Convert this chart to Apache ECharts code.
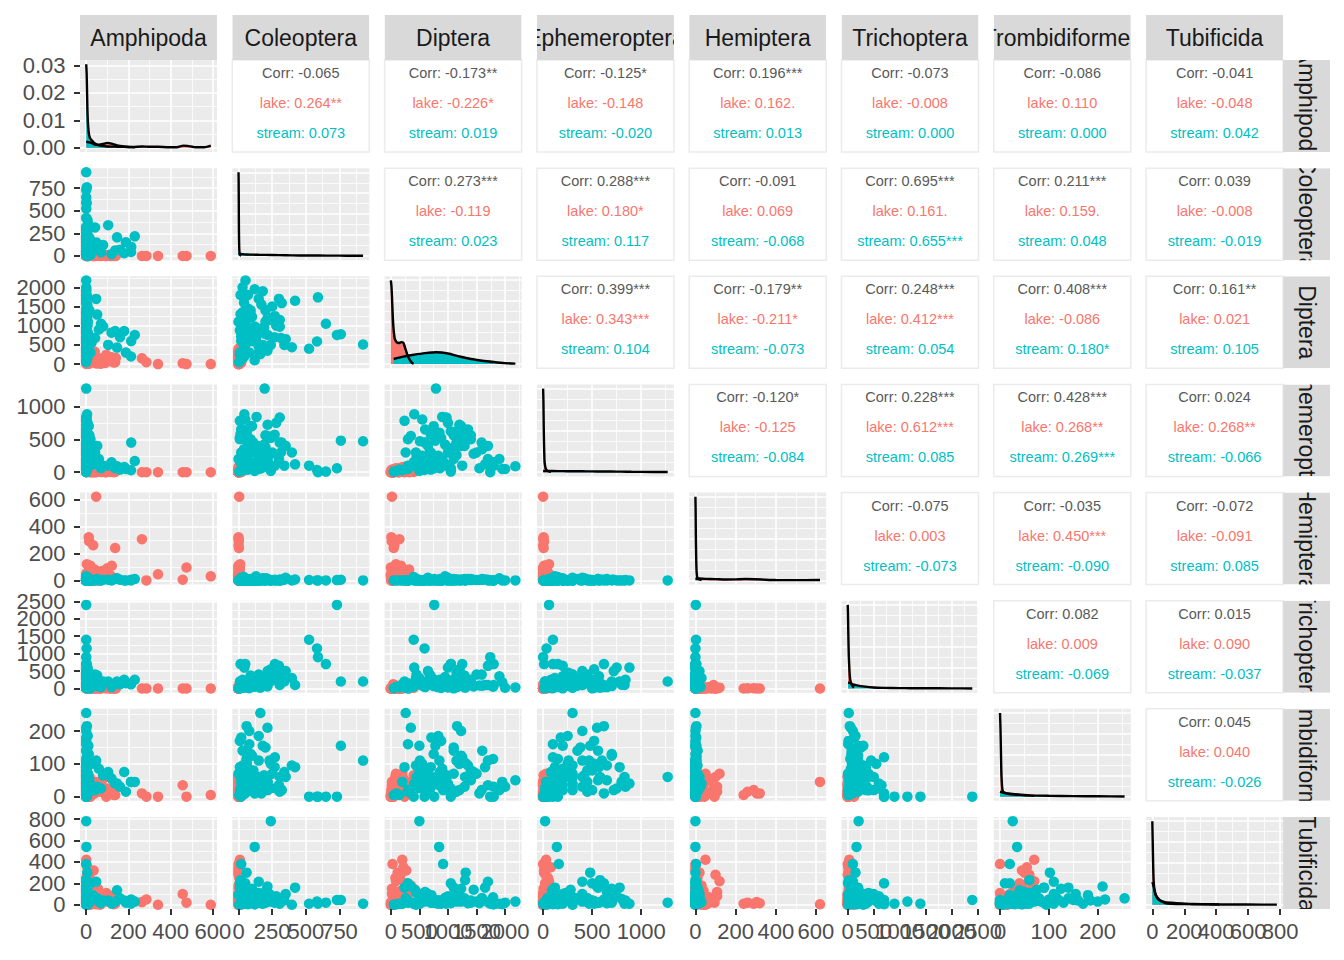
<!DOCTYPE html>
<html><head><meta charset="utf-8">
<script src="https://cdn.jsdelivr.net/npm/echarts@6/dist/echarts.min.js"></script>
<style>html,body{margin:0;padding:0;background:#fff}#c{width:1344px;height:960px}</style>
</head><body><div id="c"></div>
<script>
const variables = ['Amphipoda','Coleoptera','Diptera','Ephemeroptera','Hemiptera','Trichoptera','Trombidiformes','Tubificida'];

// lake observations
const lakeAmphipoda = [47,12,14,33,137,264,20,121,285,340,457,475,590,0,5,0,10,0,30,60,90,100,5,0,20,70,0,110,40,0, 8,25,45,75,130,15,55,95,3,35,65,115,0,18,140];
const lakeColeoptera = [5,0,2,0,3,0,5,0,0,0,0,0,0,10,0,5,15,0,0,5,0,10,0,0,20,0,5,0,0,10, 0,2,0,5,0,0,8,0,12,0,3,0,0,6,0];
const lakeDiptera = [20,10,15,60,50,150,100,180,50,0,20,0,0,200,120,80,250,400,300,150,30,70,220,350,40,10,180,90,320,5, 60,130,200,110,40,170,20,240,90,270,60,140,30,210,160];
const lakeEphemeroptera = [0,5,10,0,5,0,20,10,0,0,0,0,0,30,10,50,20,5,60,15,0,30,80,40,0,5,70,20,0,25, 10,0,15,5,0,25,40,0,60,10,35,5,0,45,20];
const lakeHemiptera = [620,320,290,260,240,305,108,108,0,45,5,95,30,50,20,10,5,15,0,10,60,90,0,30,2,0,40,20,80,0, 15,5,30,70,10,100,0,25,120,0,50,35,0,65,15];
const lakeTrichoptera = [0,0,10,5,0,0,20,5,0,0,0,0,0,30,10,50,80,20,40,0,5,100,10,60,120,0,30,0,0,15, 5,0,10,20,0,0,40,15,25,60,0,5,0,35,0];
const lakeTrombidiformes = [45,10,20,15,5,10,30,15,0,0,35,0,5,70,50,60,40,65,20,30,10,25,55,45,0,20,35,60,10,0, 25,40,15,50,5,60,30,0,70,45,15,25,0,55,35];
const lakeTubificida = [5,15,10,20,10,25,120,80,50,0,100,20,0,420,300,250,200,150,100,60,40,30,350,180,0,10,130,60,30,5, 40,90,20,70,5,280,150,110,220,320,0,50,380,15,100];

// stream observations
const streamAmphipoda = [0,3,0,0,2,0,0,6,0,0, 0,4,0,0,2,0,0,1,0,0, 5,0,47,52,80,137,180,213,230,146, 42,104,188,212,0,0,3,0,7,0, 10,0,2,5,0,15,4,0,5,0, 10,6,0,0,3,0,20,1,0,0, 3,0,25,0,8,5,60,120,2,0, 0,0,4,0,0,12,0,0,30,0, 0,2,0,0,70,0,0,0,160,0];
const streamColeoptera = [925,760,731,649,583,590,524,396,321,52, 194,43,134,216,306,268,306,120,240,20, 60,30,150,90,120,60,30,100,217,206, 315,340,152,43,162,215,60,80,150,20, 180,40,60,100,10,200,250,120,30,70, 350,280,180,50,90,20,10,15,420,5, 40,100,60,130,0,170,70,20,270,30, 110,60,200,30,150,90,20,240,130,70, 10,300,50,190,40,120,80,230,70,15];
const streamDiptera = [510,780,760,1050,590,1740,400,440,1590,2180, 790,410,900,1200,975,700,1150,845,500,915, 1310,1100,1700,1290,980,860,860,600,760,430, 680,500,300,200,260,350,1160,1230,830,710, 500,1600,1790,1230,240,1400,1500,100,150,1800, 650,1000,1900,1050,1400,600,300,1800,1650,50, 400,700,550,950,1100,1550,900,820,1250,2000, 600,850,1100,1350,450,750,1000,1200,650,1450, 880,1700,550,950,1050,1950,300,1150,700,1300];
const streamEphemeroptera = [470,480,60,10,35,0,100,300,450,90, 1270,880,840,720,830,570,450,140,20,160, 480,560,400,400,100,60,80,450,170,90, 300,100,50,30,300,550,620,400,250,180, 200,350,150,700,780,560,300,20,40,100, 400,750,200,620,500,650,500,150,120,10, 150,300,250,120,200,60,200,150,100,50, 450,600,380,650,230,700,300,520,120,280, 520,200,800,420,60,50,100,260,40,580];
const streamHemiptera = [0,5,2,0,0,0,3,0,4,0, 0,0,2,5,0,0,6,0,0,3, 0,10,5,10,5,10,0,5,10,15, 0,5,0,0,0,2,5,0,0,4, 0,10,0,5,0,10,3,0,0,0, 20,0,15,0,2,0,0,0,7,0, 25,0,0,30,0,3,0,0,5,0, 0,5,0,10,0,0,20,0,0,5, 0,0,0,15,0,0,0,0,5,0];
const streamTrichoptera = [200,200,2400,700,1150,900,1400,300,400,30, 200,600,250,500,100,350,200,170,210,100, 150,80,100,370,200,150,250,150,250,200, 400,200,150,120,20,60,40,100,150,120, 300,80,50,200,200,150,400,50,30,100, 500,600,350,700,250,40,5,700,100,10, 50,150,80,300,5,90,60,40,700,20, 180,120,260,90,400,70,30,550,220,60, 15,650,110,330,40,180,10,450,120,20];
const streamTrombidiformes = [110,155,0,0,0,0,0,95,20,50, 60,40,30,20,60,90,15,35,26,20, 102,140,110,30,65,40,75,45,45,40, 20,75,15,45,255,210,215,200,185,180, 155,140,115,125,90,50,70,10,5,30, 60,25,20,10,80,50,20,0,90,5, 30,60,100,40,70,10,85,55,120,30, 80,110,150,95,60,130,40,100,20,75, 170,35,45,65,25,45,160,110,30,60];
const streamTubificida = [10,45,45,20,30,10,10,0,60,30, 20,10,40,80,10,20,30,540,780,380, 300,160,215,60,40,30,40,50,30,135, 60,40,20,10,60,170,50,30,40,90, 100,60,70,150,160,20,30,5,10,5, 100,80,10,200,40,120,200,5,160,0, 20,70,50,25,90,15,30,10,45,20, 60,30,45,15,110,20,70,35,90,140, 10,25,55,65,15,5,40,100,60,230];

// axis breaks (tick labels)
const breaksAmphipoda = [0,200,400,600];
const breaksColeoptera = [0,250,500,750];
const breaksDiptera = [0,500,1000,1500,2000];
const breaksEphemeroptera = [0,500,1000];
const breaksHemiptera = [0,200,400,600];
const breaksTrichoptera = [0,500,1000,1500,2000,2500];
const breaksTrombidiformes = [0,100,200];
const breaksTubificida = [0,200,400,600,800];
const densityBreaksAmphipoda = [0,0.01,0.02,0.03];
const densityBreaksRelative = [0,0.25,0.5,0.75,1];

// densities [value, density]
const densLakeAmphipoda = [[0,0.0022],[20,0.0019],[40,0.0012],[60,0.0011],[85,0.0015],[100,0.0018],[120,0.0015],[145,0.0009],[180,0.0005],[220,0.0003],[265,0.0005],[300,0.0004],[340,0.0004],[390,0.0002],[430,0.0002],[460,0.0008],[480,0.0007],[520,0.0002],[560,0.0002],[590,0.0008]];
const densStreamAmphipoda = [[0,0.0305],[2,0.027],[4,0.02],[6,0.013],[9,0.008],[13,0.005],[18,0.0035],[25,0.0028],[35,0.002],[50,0.0012],[70,0.0007],[100,0.0005],[150,0.0004],[200,0.0003],[230,0.0002]];
const densLakeColeoptera = [[0,1],[1,0.9],[2,0.6],[3,0.3],[5,0.1],[8,0.03],[12,0.01],[20,0.003]];
const densStreamColeoptera = [[0,0.03],[10,0.028],[30,0.022],[60,0.018],[100,0.016],[150,0.014],[200,0.013],[300,0.01],[400,0.007],[500,0.005],[600,0.005],[700,0.004],[800,0.003],[925,0.002]];
const densLakeDiptera = [[0,0.99],[10,0.93],[20,0.8],[35,0.55],[50,0.4],[70,0.3],[100,0.26],[140,0.25],[180,0.26],[220,0.25],[260,0.17],[300,0.09],[340,0.04],[380,0.01],[400,0.005]];
const densStreamDiptera = [[50,0.06],[200,0.085],[400,0.11],[600,0.13],[800,0.14],[1000,0.125],[1200,0.09],[1400,0.06],[1600,0.04],[1800,0.025],[2000,0.012],[2180,0.005]];
const densLakeEphemeroptera = [[0,1],[3,0.85],[6,0.55],[10,0.3],[15,0.12],[25,0.05],[40,0.02],[60,0.01],[80,0.005]];
const densStreamEphemeroptera = [[0,0.015],[100,0.014],[200,0.013],[300,0.012],[400,0.011],[500,0.01],[600,0.009],[700,0.008],[800,0.007],[900,0.005],[1000,0.004],[1270,0.002]];
const densLakeHemiptera = [[0,0.02],[20,0.022],[50,0.018],[100,0.015],[150,0.01],[200,0.012],[250,0.016],[300,0.014],[350,0.008],[400,0.004],[500,0.003],[600,0.004],[620,0.004]];
const densStreamHemiptera = [[0,1],[1,0.85],[2,0.55],[4,0.25],[6,0.1],[10,0.03],[20,0.01],[30,0.005]];
const densLakeTrichoptera = [[0,1],[5,0.9],[10,0.7],[20,0.4],[35,0.2],[50,0.1],[80,0.04],[120,0.01]];
const densStreamTrichoptera = [[5,0.07],[50,0.065],[100,0.05],[200,0.035],[300,0.025],[500,0.012],[700,0.008],[1000,0.005],[1200,0.004],[1500,0.003],[2000,0.002],[2400,0.001]];
const densLakeTrombidiformes = [[0,1],[1,0.8],[2,0.5],[3,0.25],[5,0.08],[8,0.05],[15,0.04],[30,0.03],[50,0.02],[70,0.01]];
const densStreamTrombidiformes = [[0,0.06],[5,0.05],[15,0.035],[30,0.025],[60,0.015],[100,0.01],[150,0.006],[200,0.004],[255,0.002]];
const densLakeTubificida = [[0,1],[2,0.8],[5,0.5],[8,0.3],[12,0.2],[20,0.12],[40,0.06],[80,0.03],[150,0.02],[250,0.01],[350,0.008],[420,0.005]];
const densStreamTubificida = [[0,0.27],[5,0.24],[10,0.2],[20,0.13],[30,0.09],[45,0.06],[60,0.04],[80,0.02],[120,0.012],[200,0.008],[400,0.004],[600,0.003],[780,0.002]];

// correlation texts (upper triangle, row by row)
const corrTotal = ['-0.065','-0.173**','-0.125*','0.196***','-0.073','-0.086','-0.041','0.273***','0.288***','-0.091','0.695***','0.211***','0.039','0.399***','-0.179**','0.248***','0.408***','0.161**','-0.120*','0.228***','0.428***','0.024','-0.075','-0.035','-0.072','0.082','0.015','0.045'];
const corrLake = ['0.264**','-0.226*','-0.148','0.162.','-0.008','0.110','-0.048','-0.119','0.180*','0.069','0.161.','0.159.','-0.008','0.343***','-0.211*','0.412***','-0.086','0.021','-0.125','0.612***','0.268**','0.268**','0.003','0.450***','-0.091','0.009','0.090','0.040'];
const corrStream = ['0.073','0.019','-0.020','0.013','0.000','0.000','0.042','0.023','0.117','-0.068','0.655***','0.048','-0.019','0.104','-0.073','0.054','0.180*','0.105','-0.084','0.085','0.269***','-0.066','-0.073','-0.090','0.085','-0.069','-0.037','-0.026'];

const lakeColor = '#F8766D', streamColor = '#00BFC4';
const FONT = 'Liberation Sans';

const lake = [lakeAmphipoda,lakeColeoptera,lakeDiptera,lakeEphemeroptera,lakeHemiptera,lakeTrichoptera,lakeTrombidiformes,lakeTubificida];
const stream = [streamAmphipoda,streamColeoptera,streamDiptera,streamEphemeroptera,streamHemiptera,streamTrichoptera,streamTrombidiformes,streamTubificida];
const breaks = [breaksAmphipoda,breaksColeoptera,breaksDiptera,breaksEphemeroptera,breaksHemiptera,breaksTrichoptera,breaksTrombidiformes,breaksTubificida];
const densLake = [densLakeAmphipoda,densLakeColeoptera,densLakeDiptera,densLakeEphemeroptera,densLakeHemiptera,densLakeTrichoptera,densLakeTrombidiformes,densLakeTubificida];
const densStream = [densStreamAmphipoda,densStreamColeoptera,densStreamDiptera,densStreamEphemeroptera,densStreamHemiptera,densStreamTrichoptera,densStreamTrombidiformes,densStreamTubificida];

const n = variables.length;
const L0 = 80, T0 = 60, PW = 137, PH = 92, SX = 152.3, SY = 108.14, TICK = 6;

const limits = variables.map((v,i) => {
  const all = lake[i].concat(stream[i]);
  const lo = Math.min(...all), hi = Math.max(...all), r = hi - lo;
  return [lo - 0.05*r, hi + 0.05*r];
});
const densLimits = variables.map((v,i) => {
  const hi = Math.max(...densLake[i].concat(densStream[i]).map(p => p[1]));
  return [-0.05*hi, 1.05*hi];
});
const densBreaks = variables.map((v,i) => i === 0 ? densityBreaksAmphipoda : densityBreaksRelative);

function minorOf(b, lim) {
  const d = b[1] - b[0];
  const ext = [b[0]-d].concat(b, [b[b.length-1]+d]);
  const out = [];
  for (let i = 0; i < ext.length-1; i++) {
    const m = (ext[i]+ext[i+1])/2;
    if (m > lim[0] && m < lim[1]) out.push(m);
  }
  return out;
}

function axisCfg(k, lim) {
  return {
    type: 'value', gridIndex: k, min: lim[0], max: lim[1],
    axisLine: { show: false }, axisTick: { show: false }, axisLabel: { show: false },
    splitLine: { show: false }, minorSplitLine: { show: false }
  };
}

const linesBase = (k) => ({ type: 'lines', coordinateSystem: 'cartesian2d', xAxisIndex: k, yAxisIndex: k,
  silent: true, polyline: false, animation: false, symbol: ['none','none'], clip: false });

function gridLines(k, xb, yb, xl, yl) {
  const mk = (xs, ys) => xs.map(x => ({ coords: [[x, yl[0]], [x, yl[1]]] }))
    .concat(ys.map(y => ({ coords: [[xl[0], y], [xl[1], y]] })));
  return [
    Object.assign(linesBase(k), { z: 1, lineStyle: { color: '#FFFFFF', width: 0.8, opacity: 1 }, data: mk(minorOf(xb, xl), minorOf(yb, yl)) }),
    Object.assign(linesBase(k), { z: 1, lineStyle: { color: '#FFFFFF', width: 1.6, opacity: 1 }, data: mk(xb, yb) })
  ];
}

// tick labels drawn as series labels so that none of them is dropped
function tickLabels(k, pts, pos, dist, fmt) {
  return { type: 'scatter', xAxisIndex: k, yAxisIndex: k, symbolSize: 1, silent: true, z: 5, clip: false,
    animation: false, itemStyle: { color: 'rgba(0,0,0,0)', opacity: 1 },
    labelLayout: { hideOverlap: false },
    label: { show: true, position: pos, distance: dist, color: '#4D4D4D', opacity: 1, fontSize: 22, fontFamily: FONT,
      formatter: prm => fmt(prm.data[2]) },
    data: pts };
}

const grid = [], xAxis = [], yAxis = [], series = [], graphic = [];
let k = 0;
for (let r = 0; r < n; r++) {
  for (let c = 0; c <= r; c++) {
    const left = L0 + c*SX, top = T0 + r*SY;
    grid.push({ left: left, top: top, width: PW, height: PH, show: true, backgroundColor: '#EBEBEB', borderWidth: 0 });
    const xl = limits[c], xb = breaks[c];
    const yl = r === c ? densLimits[c] : limits[r];
    const yb = r === c ? densBreaks[c] : breaks[r];
    xAxis.push(axisCfg(k, xl));
    yAxis.push(axisCfg(k, yl));
    gridLines(k, xb, yb, xl, yl).forEach(s => series.push(s));
    if (r === c) {
      [[densLake[c], lakeColor], [densStream[c], streamColor]].forEach(([d, col]) => {
        series.push({ type: 'line', xAxisIndex: k, yAxisIndex: k, data: d, symbol: 'none', showSymbol: false,
          smooth: 0.2, z: 3, silent: true, animation: false,
          lineStyle: { color: '#000000', width: 2.4 },
          areaStyle: { color: col, opacity: 1 } });
      });
    } else {
      [[lake, lakeColor], [stream, streamColor]].forEach(([g, col]) => {
        series.push({ type: 'scatter', xAxisIndex: k, yAxisIndex: k, symbolSize: 10.5, z: 3, silent: true,
          animation: false, itemStyle: { color: col, opacity: 1 },
          data: g[c].map((v, i) => [v, g[r][i]]) });
      });
    }
    if (c === 0) {
      const fmt = r === 0 ? (v => v.toFixed(2)) : (v => String(v));
      const dx = (xl[1] - xl[0]) * TICK / PW;
      series.push(Object.assign(linesBase(k), { z: 4, lineStyle: { color: '#333333', width: 2, opacity: 1 },
        data: yb.map(v => ({ coords: [[xl[0] - dx, v], [xl[0], v]] })) }));
      series.push(tickLabels(k, yb.map(v => [xl[0], v, v]), 'left', 14, fmt));
    }
    if (r === n-1) {
      const dy = (yl[1] - yl[0]) * TICK / PH;
      series.push(Object.assign(linesBase(k), { z: 4, lineStyle: { color: '#333333', width: 2, opacity: 1 },
        data: xb.map(v => ({ coords: [[v, yl[0]], [v, yl[0] - dy]] })) }));
      series.push(tickLabels(k, xb.map(v => [v, yl[0], v]), 'bottom', 11, v => String(v)));
    }
    k++;
  }
}

// upper triangle correlation panels
let p = 0;
function txt(x, y, s, col) {
  return { type: 'text', x: x, y: y, silent: true,
    style: { text: s, fill: col, fontSize: 14.5, fontFamily: FONT, textAlign: 'center', textVerticalAlign: 'middle' } };
}
for (let r = 0; r < n; r++) {
  for (let c = r+1; c < n; c++) {
    const left = L0 + c*SX, top = T0 + r*SY;
    graphic.push({ type: 'rect', silent: true, shape: { x: left, y: top, width: PW, height: PH },
      style: { fill: '#FFFFFF', stroke: '#EBEBEB', lineWidth: 1.5 } });
    graphic.push(txt(left + PW/2, top + 13, 'Corr: ' + corrTotal[p], '#595959'));
    graphic.push(txt(left + PW/2, top + 43, 'lake: ' + corrLake[p], lakeColor));
    graphic.push(txt(left + PW/2, top + 73, 'stream: ' + corrStream[p], streamColor));
    p++;
  }
}

const chart = echarts.init(document.getElementById('c'), null, { renderer: 'svg' });
chart.setOption({ animation: false, backgroundColor: '#FFFFFF', grid, xAxis, yAxis, series, graphic });

// facet strips (clipped to strip boxes)
const zr = chart.getZr();
function strip(x, y, w, h, label, rot) {
  const g = new echarts.graphic.Group();
  g.add(new echarts.graphic.Rect({ shape: { x: x, y: y, width: w, height: h }, style: { fill: '#D9D9D9' }, silent: true }));
  g.add(new echarts.graphic.Text({ x: x + w/2, y: y + h/2, rotation: rot, silent: true,
    style: { text: label, fill: '#1A1A1A', fontSize: 23, fontFamily: FONT, align: 'center', verticalAlign: 'middle' } }));
  g.setClipPath(new echarts.graphic.Rect({ shape: { x: x, y: y, width: w, height: h } }));
  zr.add(g);
}
variables.forEach((v, i) => {
  strip(L0 + i*SX, 15, PW, 45, v, 0);
  strip(L0 + 7*SX + PW, T0 + i*SY, 47, PH, v, -Math.PI/2);
});
</script>
</body></html>
